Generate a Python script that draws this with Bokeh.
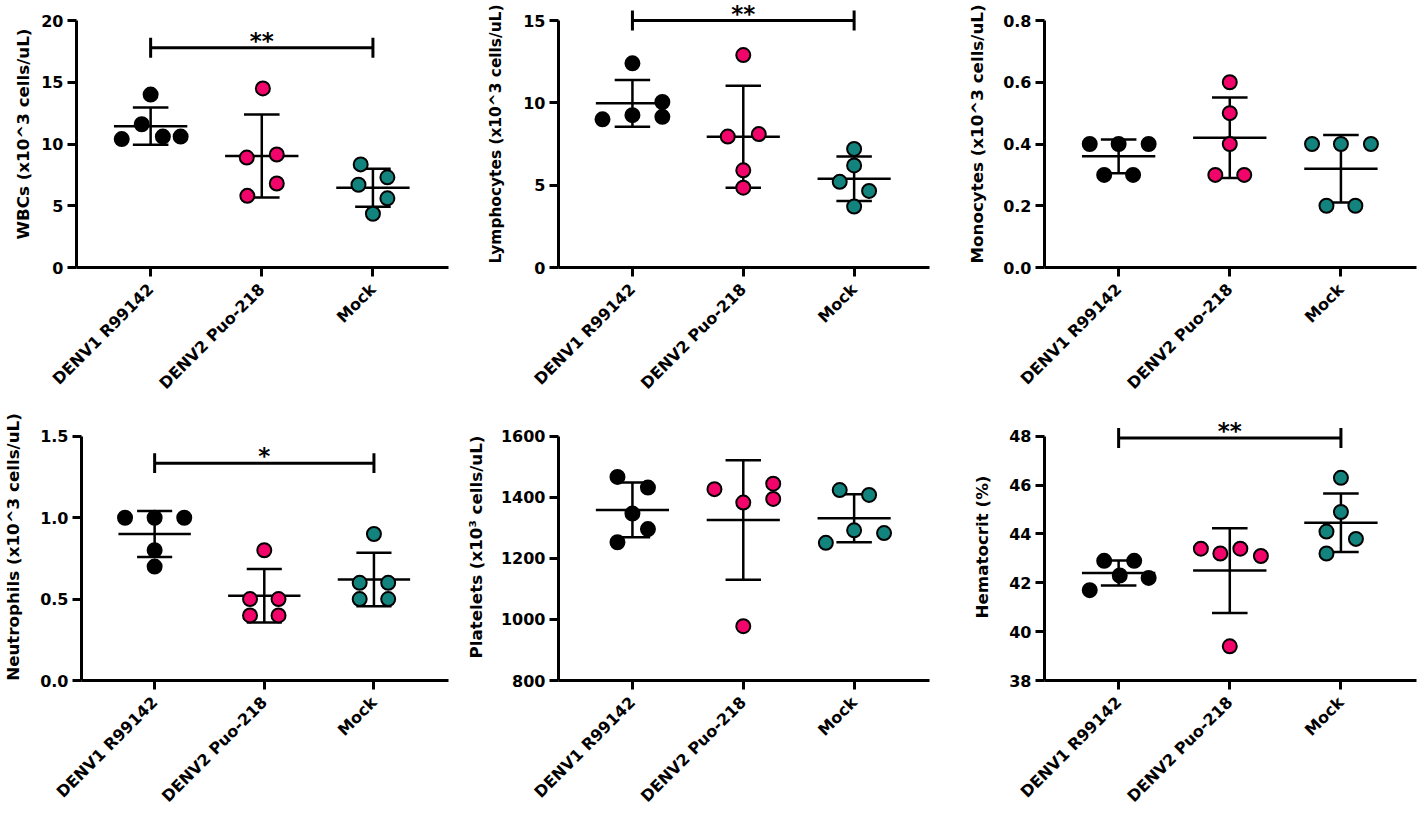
import math
import numpy as np
from bokeh.plotting import figure
from bokeh.layouts import row, column
from bokeh.models import FixedTicker, Range1d, NumeralTickFormatter
from bokeh.core.properties import value
from bokeh.embed import file_html
from bokeh.resources import INLINE

# ---------------- data ----------------
groups = ["DENV1 R99142", "DENV2 Puo-218", "Mock"]
group_colors = ["#000000", "#F2056B", "#13837E"]

wbc_denv1 = [14.0, 11.6, 10.4, 10.6, 10.6]
wbc_denv2 = [14.5, 8.9, 9.15, 6.8, 5.8]
wbc_mock = [8.35, 7.3, 6.7, 5.6, 4.35]

lym_denv1 = [12.4, 9.0, 9.25, 10.05, 9.15]
lym_denv2 = [12.9, 7.95, 8.1, 5.9, 4.85]
lym_mock = [7.2, 6.2, 5.2, 4.65, 3.7]

mono_denv1 = [0.4, 0.4, 0.4, 0.3, 0.3]
mono_denv2 = [0.6, 0.5, 0.4, 0.3, 0.3]
mono_mock = [0.4, 0.4, 0.4, 0.2, 0.2]

neu_denv1 = [1.0, 1.0, 1.0, 0.8, 0.7]
neu_denv2 = [0.8, 0.5, 0.5, 0.4, 0.4]
neu_mock = [0.9, 0.6, 0.6, 0.5, 0.5]

plt_denv1 = [1467, 1432, 1347, 1296, 1253]
plt_denv2 = [1427, 1383, 1445, 1395, 978]
plt_mock = [1424, 1408, 1292, 1251, 1283]

hct_denv1 = [42.9, 42.9, 42.3, 42.2, 41.7]
hct_denv2 = [43.4, 43.2, 43.4, 43.1, 39.4]
hct_mock = [46.3, 44.9, 44.1, 43.8, 43.2]

# horizontal scatter (jitter) of each point, in category units
wbc_jit = [[0, -0.08, -0.26, 0.11, 0.27], [0.01, -0.135, 0.135, 0.135, -0.13], [-0.11, 0.13, -0.13, 0.13, 0]]
lym_jit = [[0, -0.27, 0, 0.27, 0.27], [0, -0.14, 0.14, 0, 0], [0, 0, -0.13, 0.135, 0]]
mono_jit = [[-0.26, 0, 0.27, -0.13, 0.13], [0, 0, 0, -0.13, 0.13], [-0.26, 0, 0.27, -0.13, 0.13]]
neu_jit = [[-0.27, 0, 0.27, 0, 0], [0, -0.13, 0.13, -0.13, 0.13], [0, -0.13, 0.13, -0.13, 0.13]]
plt_jit = [[-0.135, 0.14, 0, 0.14, -0.135], [-0.26, 0, 0.27, 0.27, 0], [-0.13, 0.135, 0, -0.255, 0.27]]
hct_jit = [[-0.13, 0.14, 0.01, 0.27, -0.26], [-0.26, -0.085, 0.095, 0.28, 0], [0, 0, -0.13, 0.135, -0.13]]

# significance brackets: (from group, to group, label, y level)
wbc_sig = (1, 3, "**", 17.8)
lym_sig = (1, 3, "**", 15.0)
neu_sig = (1, 3, "*", 1.335)
hct_sig = (1, 3, "**", 47.93)

FONT = "DejaVu Sans"


def make_panel(ylabel, vals, jit, ymin, ymax, yticks, fmt, width, height,
               bl, br, bt, bb, extra_px, label_standoff, sig=None, label_size="16.7px"):
    fh = height - bt - bb
    span_px = fh - extra_px
    rng = ymax - ymin
    px = rng / span_px  # data units per pixel
    yext = ymax + extra_px * px
    p = figure(width=width, height=height, x_range=Range1d(0.333, 3.68),
               y_range=Range1d(ymin, yext), output_backend="svg",
               toolbar_location=None, min_border_left=bl, min_border_right=br,
               min_border_top=bt, min_border_bottom=bb)
    p.xgrid.visible = False
    p.ygrid.visible = False
    p.outline_line_color = None
    p.background_fill_color = "white"
    p.border_fill_color = "white"

    for i, (v, j) in enumerate(zip(vals, jit)):
        x = i + 1
        arr = np.array(v, dtype=float)
        m = arr.mean()
        s = arr.std(ddof=1)
        p.segment(x0=[x - 0.33], y0=[m], x1=[x + 0.33], y1=[m], line_color="black", line_width=2.5)
        p.segment(x0=[x], y0=[m - s], x1=[x], y1=[m + s], line_color="black", line_width=2.5)
        p.segment(x0=[x - 0.16, x - 0.16], y0=[m - s, m + s], x1=[x + 0.16, x + 0.16], y1=[m - s, m + s],
                  line_color="black", line_width=2.5)
        p.scatter(x=[x + d for d in j], y=v, size=14, marker="circle",
                  fill_color=group_colors[i], line_color="black", line_width=2)

    if sig is not None:
        a, b, lab, yb = sig
        d = 10.0 * px
        p.segment(x0=[a], y0=[yb], x1=[b], y1=[yb], line_color="black", line_width=3)
        p.segment(x0=[a, b], y0=[yb - d, yb - d], x1=[a, b], y1=[yb + d, yb + d], line_color="black", line_width=3)
        p.text(x=[(a + b) / 2], y=[yb + 10 * px], text=[lab], text_font=value(FONT), text_font_style="bold",
               text_font_size="23px", text_align="center", text_baseline="alphabetic",
               y_offset=3, text_color="black")

    # axes
    p.xaxis.ticker = FixedTicker(ticks=[1, 2, 3])
    p.xaxis.major_label_overrides = {1: groups[0], 2: groups[1], 3: groups[2]}
    p.xaxis.major_label_orientation = math.pi / 4
    p.yaxis.ticker = FixedTicker(ticks=yticks)
    p.yaxis.formatter = NumeralTickFormatter(format=fmt)
    p.yaxis.bounds = (ymin, ymax)
    p.yaxis.axis_label = ylabel
    p.yaxis.axis_label_standoff = label_standoff
    for ax in (p.xaxis[0], p.yaxis[0]):
        ax.axis_line_width = 3
        ax.axis_line_color = "black"
        ax.major_tick_line_width = 3
        ax.major_tick_line_color = "black"
        ax.major_tick_out = 9
        ax.major_tick_in = 0
        ax.minor_tick_line_color = None
        ax.major_label_standoff = 4
        ax.major_label_text_font = FONT
        ax.major_label_text_font_style = "bold"
        ax.major_label_text_font_size = "16px"
        ax.major_label_text_color = "black"
        ax.axis_label_text_font = FONT
        ax.axis_label_text_font_style = "bold"
        ax.axis_label_text_font_size = label_size
        ax.axis_label_text_color = "black"
    p.xaxis.major_label_standoff = 10
    return p


# row 1: height 405, frame 0..267 ; row 2: height 410, frame 413..682
R1 = dict(height=405, bt=0, bb=138, extra_px=20)
R2 = dict(height=410, bt=8, bb=133, extra_px=23)
C1 = dict(width=460, bl=76, br=12)
C2 = dict(width=480, bl=98, br=11)
C3 = dict(width=477, bl=104, br=1)

p1 = make_panel("WBCs (x10^3 cells/uL)", [wbc_denv1, wbc_denv2, wbc_mock], wbc_jit,
                0, 20, [0, 5, 10, 15, 20], "0", label_standoff=5, sig=wbc_sig, **R1, **C1)
p2 = make_panel("Lymphocytes (x10^3 cells/uL)", [lym_denv1, lym_denv2, lym_mock], lym_jit,
                0, 15, [0, 5, 10, 15], "0", label_standoff=15, sig=lym_sig, label_size="15.4px", **R1, **C2)
p3 = make_panel("Monocytes (x10^3 cells/uL)", [mono_denv1, mono_denv2, mono_mock], mono_jit,
                0, 0.8, [0, 0.2, 0.4, 0.6, 0.8], "0.0", label_standoff=13, **R1, **C3)
p4 = make_panel("Neutrophils (x10^3 cells/uL)", [neu_denv1, neu_denv2, neu_mock], neu_jit,
                0, 1.5, [0, 0.5, 1.0, 1.5], "0.0", label_standoff=14, sig=neu_sig, **R2, **C1)
p5 = make_panel("Platelets (x10\u00b3 cells/uL)", [plt_denv1, plt_denv2, plt_mock], plt_jit,
                800, 1600, [800, 1000, 1200, 1400, 1600], "0", label_standoff=12, **R2, **C2)
p6 = make_panel("Hematocrit (%)", [hct_denv1, hct_denv2, hct_mock], hct_jit,
                38, 48, [38, 40, 42, 44, 46, 48], "0", label_standoff=14, sig=hct_sig, **R2, **C3)

layout = column(row(p1, p2, p3), row(p4, p5, p6))
open("out.html", "w").write(file_html(layout, INLINE))
